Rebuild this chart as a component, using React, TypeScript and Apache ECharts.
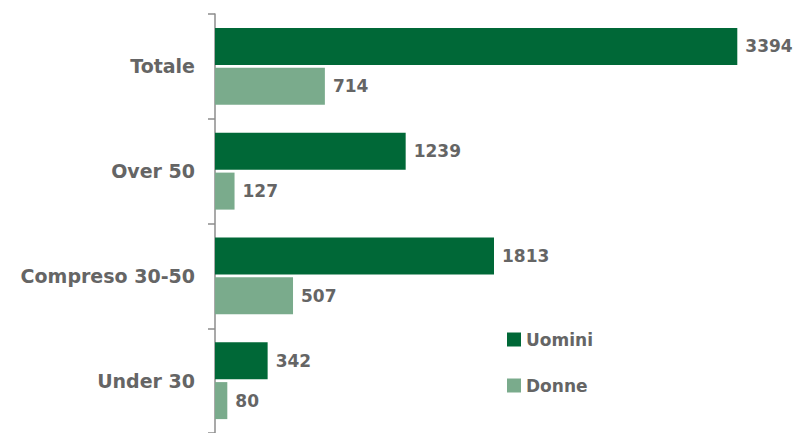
import React, { useEffect, useRef } from "react";
import * as echarts from "echarts";

const categories = ["Under 30", "Compreso 30-50", "Over 50", "Totale"];
const uomini = [342, 1813, 1239, 3394];
const donne = [80, 507, 127, 714];
const seriesNames = ["Uomini", "Donne"];

export default function App() {
  const ref = useRef<HTMLDivElement>(null);
  useEffect(() => {
    if (!ref.current) return;
    const chart = echarts.init(ref.current, undefined, { renderer: "svg" });
    const font = "'DejaVu Sans', sans-serif";
    const textColor = "#656565";
    const labelStyle = {
      show: true,
      position: "right" as const,
      distance: 8,
      color: textColor,
      fontSize: 17,
      fontWeight: "bold" as const,
      fontFamily: font,
    };
    chart.setOption({
      animation: false,
      grid: { left: 215, top: 14, width: 554, bottom: 0, containLabel: false },
      legend: {
        orient: "vertical",
        left: 502,
        top: 326,
        itemGap: 29,
        itemWidth: 14,
        itemHeight: 14,
        icon: "rect",
        data: seriesNames,
        textStyle: { color: textColor, fontSize: 17, fontWeight: "bold", fontFamily: font },
      },
      xAxis: {
        type: "value",
        min: 0,
        max: 3600,
        show: false,
      },
      yAxis: {
        type: "category",
        data: categories,
        axisLine: { show: true, lineStyle: { color: "#8c8c8c", width: 1.5 } },
        axisTick: { show: true, length: 7, lineStyle: { color: "#8c8c8c", width: 1.5 } },
        axisLabel: {
          color: textColor,
          fontSize: 19,
          fontWeight: "bold",
          fontFamily: font,
          margin: 20,
        },
        splitLine: { show: false },
      },
      series: [
        {
          name: seriesNames[0],
          type: "bar",
          data: uomini,
          barWidth: 37,
          barGap: "8%",
          itemStyle: { color: "#006837" },
          label: labelStyle,
        },
        {
          name: seriesNames[1],
          type: "bar",
          data: donne,
          barWidth: 37,
          itemStyle: { color: "#7aab8c" },
          label: labelStyle,
        },
      ],
    });
    return () => chart.dispose();
  }, []);
  return (
    <div
      ref={ref}
      style={{ position: "absolute", left: 0, top: 0, width: 794, height: 433, background: "#fff" }}
    />
  );
}
